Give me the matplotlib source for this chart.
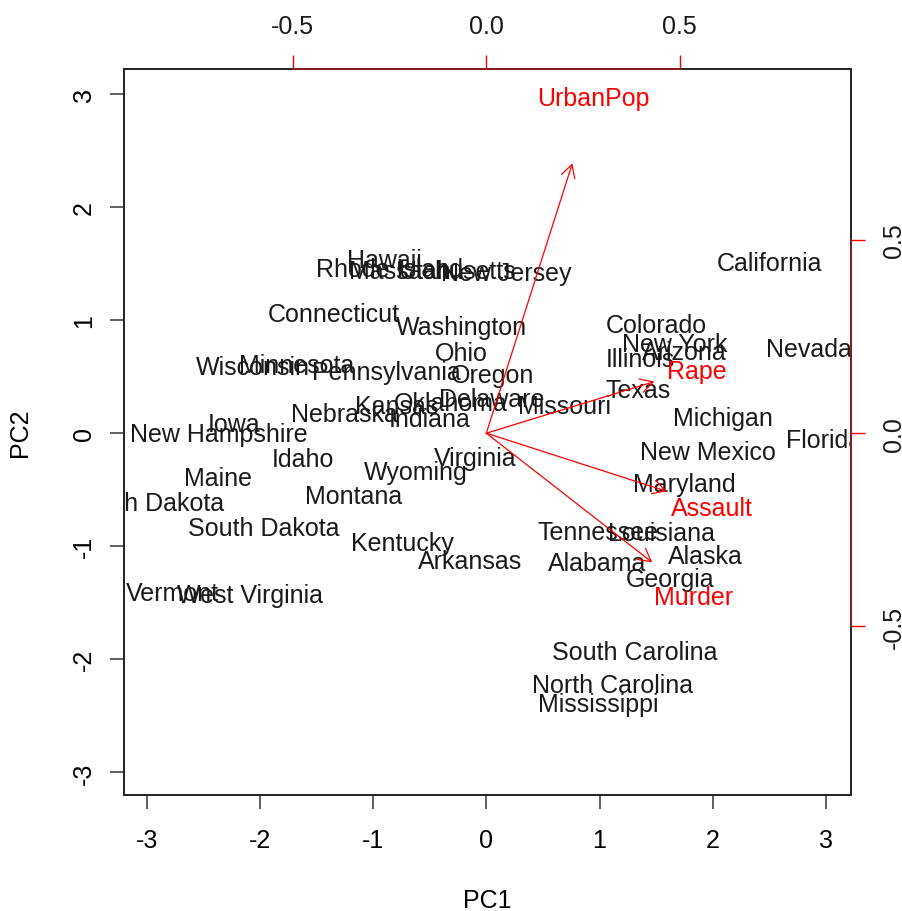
import matplotlib
matplotlib.use('agg')
import matplotlib.pyplot as plt
import numpy as np

plt.rcParams['font.family'] = ['Liberation Sans', 'DejaVu Sans']
plt.rcParams['axes.unicode_minus'] = False

# principal component scores (as shown in the biplot)
states = ['Alabama', 'Alaska', 'Arizona', 'Arkansas', 'California', 'Colorado',
          'Connecticut', 'Delaware', 'Florida', 'Georgia', 'Hawaii', 'Idaho',
          'Illinois', 'Indiana', 'Iowa', 'Kansas', 'Kentucky', 'Louisiana',
          'Maine', 'Maryland', 'Massachusetts', 'Michigan', 'Minnesota',
          'Mississippi', 'Missouri', 'Montana', 'Nebraska', 'Nevada',
          'New Hampshire', 'New Jersey', 'New Mexico', 'New York',
          'North Carolina', 'North Dakota', 'Ohio', 'Oklahoma', 'Oregon',
          'Pennsylvania', 'Rhode Island', 'South Carolina', 'South Dakota',
          'Tennessee', 'Texas', 'Utah', 'Vermont', 'Virginia', 'Washington',
          'West Virginia', 'Wisconsin', 'Wyoming']
pc1 = [0.976, 1.931, 1.745, -0.140, 2.499, 1.499, -1.345, 0.047, 2.983, 1.623,
       -0.903, -1.623, 1.365, -0.500, -2.231, -0.789, -0.743, 1.549, -2.373, 1.746,
       -0.481, 2.087, -1.676, 0.986, 0.690, -1.174, -1.253, 2.846, -2.360, 0.180,
       1.960, 1.666, 1.112, -2.962, -0.224, -0.309, 0.059, -0.879, -0.855, 1.307,
       -1.968, 0.990, 1.342, -0.545, -2.773, -0.095, -0.215, -2.087, -2.059, -0.623]
pc2 = [-1.122, -1.062, 0.738, -1.109, 1.527, 0.978, 1.078, 0.322, -0.039, -1.266,
       1.555, -0.209, 0.675, 0.150, 0.103, 0.267, -0.949, -0.862, -0.373, -0.423,
       1.460, 0.154, 0.626, -2.370, 0.261, -0.531, 0.192, 0.768, 0.018, 1.435,
       -0.141, 0.815, -2.206, -0.593, 0.735, 0.285, 0.536, 0.565, 1.477, -1.914,
       -0.815, -0.852, 0.408, 1.457, -1.388, -0.198, 0.960, -1.411, 0.605, -0.318]

# variable loadings
variables = ['Murder', 'Assault', 'UrbanPop', 'Rape']
load1 = [0.536, 0.583, 0.278, 0.543]
load2 = [-0.418, -0.188, 0.873, 0.167]

main_ticks = [-3, -2, -1, 0, 1, 2, 3]
load_ticks = [-0.5, 0.0, 0.5]
load_tick_labels = ['-0.5', '0.0', '0.5']

FS = 18
RED = '#ff0000'


def unsigned_range(v):
    v = np.asarray(v)
    return np.array([-abs(v.min()), abs(v.max())])


# same limits on both axes, like R's biplot
r1, r2 = unsigned_range(pc1), unsigned_range(pc2)
lim = np.array([min(r1[0], r2[0]), max(r1[1], r2[1])])
ratio = max(np.max(unsigned_range(load1) / lim), np.max(unsigned_range(load2) / lim))
pad = 0.04 * (lim[1] - lim[0])
lim_exp = (lim[0] - pad, lim[1] + pad)

fig = plt.figure(figsize=(9.03, 9.12), dpi=100)
rect = [0.1373, 0.1272, 0.8051, 0.7960]
ax = fig.add_axes(rect)
ax.set_xlim(lim_exp)
ax.set_ylim(lim_exp)

for name, x, y in zip(states, pc1, pc2):
    ax.text(x, y, name, fontsize=FS, ha='center', va='center_baseline',
            color='#1a1a1a', clip_on=True)

ax.set_xticks(main_ticks)
ax.set_yticks(main_ticks)
ax.set_xticklabels([str(t) for t in main_ticks])
ax.set_yticklabels([str(t) for t in main_ticks])
ax.tick_params(length=10, width=1.2, color='#444444', labelsize=FS)
ax.tick_params(axis='x', pad=14)
ax.tick_params(axis='y', pad=10)
plt.setp(ax.get_yticklabels(), rotation=90, va='center')
for s in ax.spines.values():
    s.set_linewidth(1.4)
    s.set_color('#222222')
ax.set_xlabel('PC1', fontsize=FS, labelpad=26)
ax.set_ylabel('PC2', fontsize=FS, labelpad=29)

# loadings on secondary axes
ax2 = fig.add_axes(rect)
ax2.patch.set_visible(False)
ax2.set_xlim(lim_exp[0] * ratio, lim_exp[1] * ratio)
ax2.set_ylim(lim_exp[0] * ratio, lim_exp[1] * ratio)
for name, x, y in zip(variables, load1, load2):
    ax2.annotate('', xy=(0.8 * x, 0.8 * y), xytext=(0, 0),
                 arrowprops=dict(arrowstyle='->,head_length=9,head_width=5',
                                 color=RED, lw=0.9, shrinkA=0, shrinkB=0,
                                 mutation_scale=1))
    ax2.text(x, y, name, fontsize=FS, ha='center', va='center_baseline', color=RED)

ax2.xaxis.tick_top()
ax2.yaxis.tick_right()
ax2.set_xticks(load_ticks)
ax2.set_yticks(load_ticks)
ax2.set_xticklabels(load_tick_labels)
ax2.set_yticklabels(load_tick_labels)
ax2.tick_params(length=10, width=1.0, color=RED, labelcolor='#1a1a1a',
                labelsize=FS)
ax2.tick_params(axis='x', pad=12)
ax2.tick_params(axis='y', pad=12)
plt.setp(ax2.get_yticklabels(), rotation=90, va='center')
ax2.spines['left'].set_visible(False)
ax2.spines['bottom'].set_visible(False)
for side in ['top', 'right']:
    ax2.spines[side].set_bounds(-0.5, 0.5)
    ax2.spines[side].set_color('#8b1c1c')
    ax2.spines[side].set_linewidth(1.4)

fig.savefig('out.png', dpi=100)
